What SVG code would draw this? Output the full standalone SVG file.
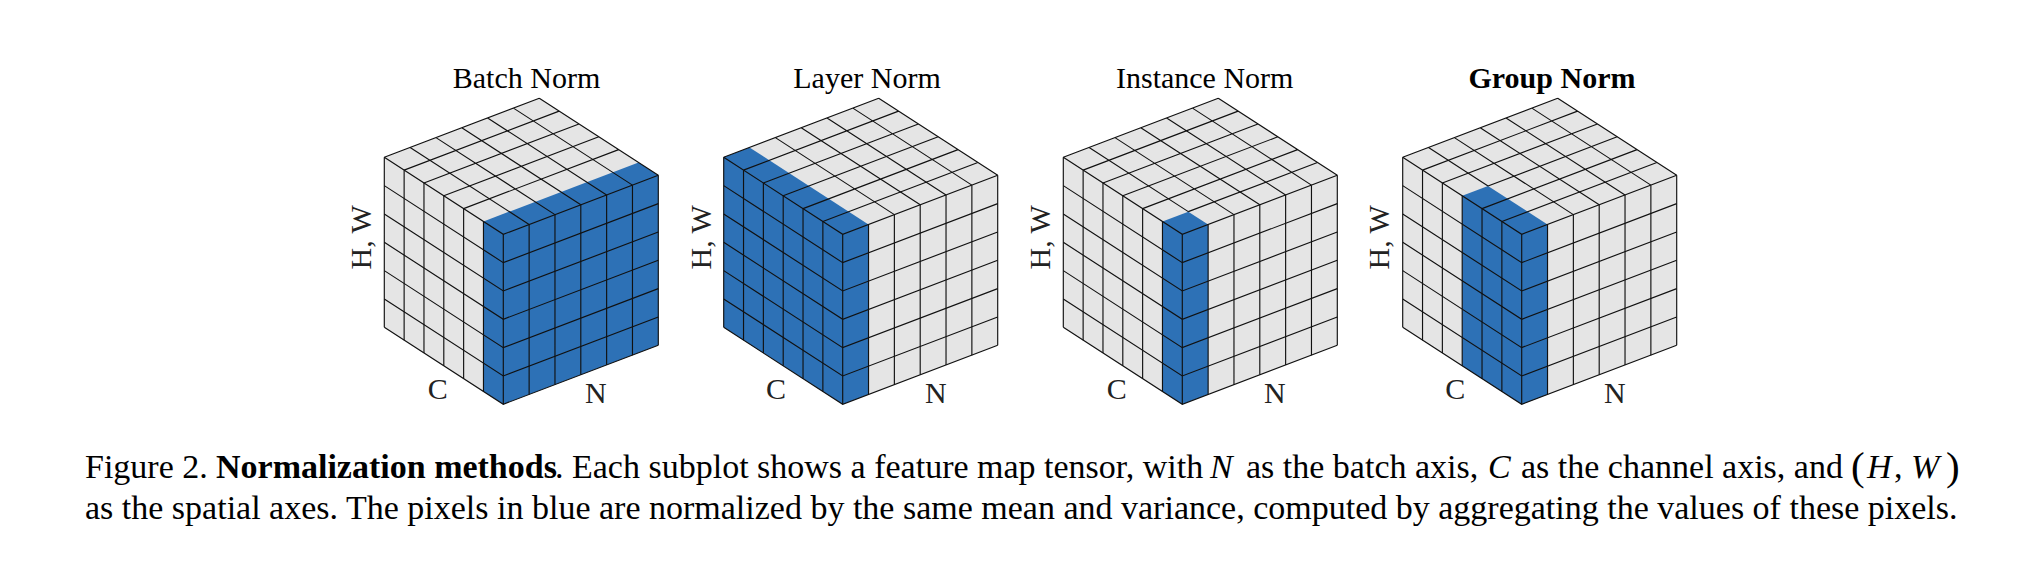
<svg xmlns="http://www.w3.org/2000/svg" width="2020" height="562" viewBox="0 0 2020 562">
<style>
text{font-family:"Liberation Serif","Times New Roman",serif;fill:#000}
.t{font-size:30px;text-anchor:middle}
.a{font-size:30px;fill:#222}
.c{font-size:34px}
.p{font-size:41px}
.b{font-weight:bold}
.i{font-style:italic}
.g{fill:#e5e5e5}
.u{fill:#2d71b6}
.l{fill:none;stroke:#111;stroke-width:1.15}
</style>
<defs>
<path id="hex" class="g" d="M0 170L-119 93V-77L36-136L155-59V111Z"/>
<path id="rows" class="l" d="M-119-77l119 77 155-59m-274 10.33l119 77 155-59m-274 10.33l119 77 155-59m-274 10.33l119 77 155-59m-274 10.33l119 77 155-59m-274 10.33l119 77 155-59m-274 10.33l119 77 155-59"/>
<path id="cols" class="l" d="M0 0v170M-19.83-12.83v170M-39.67-25.67v170M-59.5-38.5v170M-79.33-51.33v170M-99.17-64.17v170M-119-77v170M25.83-9.83v170M51.67-19.67v170M77.5-29.5v170M103.33-39.33v170M129.17-49.17v170M155-59v170"/>
<path id="top" class="l" d="M-39.67-25.67l155-59M-79.33-51.33l155-59M-99.17-64.17l155-59M-119-77l155-59M51.67-19.67l-119-77M77.5-29.5l-119-77M103.33-39.33l-119-77M129.17-49.17l-119-77M155-59l-119-77"/>
<path id="a1" class="l" d="M-19.83-12.83l155-59"/>
<path id="a3" class="l" d="M-59.5-38.5l155-59"/>
<path id="b1" class="l" d="M25.83-9.83l-119-77"/>
</defs>
<g id="batch-norm">
<text class="t" x="526.5" y="88">Batch Norm</text>
<text class="a" transform="translate(370.7 237.3) rotate(-90)" text-anchor="middle">H, W</text>
<text class="a" x="427.7" y="399">C</text>
<text class="a" x="585" y="403">N</text>
<g transform="translate(503.3 234.3)">
<use href="#hex"/>
<path class="u" d="M0 170L-19.83 157.17V-12.83L135.17-71.83L155-59V111Z"/>
<use href="#rows"/><use href="#cols"/><use href="#top"/><use href="#a3"/><use href="#b1"/>
</g>
</g>
<g id="layer-norm">
<text class="t" x="867" y="88">Layer Norm</text>
<text class="a" transform="translate(710.7 237.3) rotate(-90)" text-anchor="middle">H, W</text>
<text class="a" x="766" y="399">C</text>
<text class="a" x="925" y="403">N</text>
<g transform="translate(842.7 234.3)">
<use href="#hex"/>
<path class="u" d="M0 170L-119 93V-77L-93.17-86.83L25.83-9.83V160.17Z"/>
<use href="#rows"/><use href="#cols"/><use href="#top"/><use href="#a1"/><use href="#a3"/>
</g>
</g>
<g id="instance-norm">
<text class="t" x="1204.7" y="88">Instance Norm</text>
<text class="a" transform="translate(1050 237.3) rotate(-90)" text-anchor="middle">H, W</text>
<text class="a" x="1106.7" y="399">C</text>
<text class="a" x="1264" y="403">N</text>
<g transform="translate(1182.3 234.3)">
<use href="#hex"/>
<path class="u" d="M0 170L-19.83 157.17V-12.83L6-22.67L25.83-9.83V160.17Z"/>
<use href="#rows"/><use href="#cols"/><use href="#top"/><use href="#a3"/>
<path class="l" d="M6-22.67l129.17-49.17M6-22.67l-99.17-64.17"/>
</g>
</g>
<g id="group-norm">
<text class="t b" x="1552" y="88">Group Norm</text>
<text class="a" transform="translate(1389 237.3) rotate(-90)" text-anchor="middle">H, W</text>
<text class="a" x="1445.3" y="399">C</text>
<text class="a" x="1604" y="403">N</text>
<g transform="translate(1521.7 234.3)">
<use href="#hex"/>
<path class="u" d="M0 170L-59.5 131.5V-38.5L-33.67-48.33L25.83-9.83V160.17Z"/>
<use href="#rows"/><use href="#cols"/><use href="#top"/><use href="#a1"/>
<path class="l" d="M-33.67-48.33l129.17-49.17M-33.67-48.33l-59.5-38.5"/>
</g>
</g>
<g id="caption">
<text class="c" y="478"><tspan x="85">Figure 2.</tspan><tspan x="216" class="b">Normalization methods</tspan><tspan x="555">. Each subplot shows a feature map tensor, with</tspan><tspan x="1210" class="i">N</tspan><tspan x="1246">as the batch axis,</tspan><tspan x="1488" class="i">C</tspan><tspan x="1521">as the channel axis, and</tspan><tspan x="1867" class="i">H</tspan><tspan x="1894">,</tspan><tspan x="1911" class="i">W</tspan></text>
<text class="p" x="1851" y="480">(</text>
<text class="p" x="1946" y="480">)</text>
<text class="c" x="85" y="519">as the spatial axes. The pixels in blue are normalized by the same mean and variance, computed by aggregating the values of these pixels.</text>
</g>
</svg>
